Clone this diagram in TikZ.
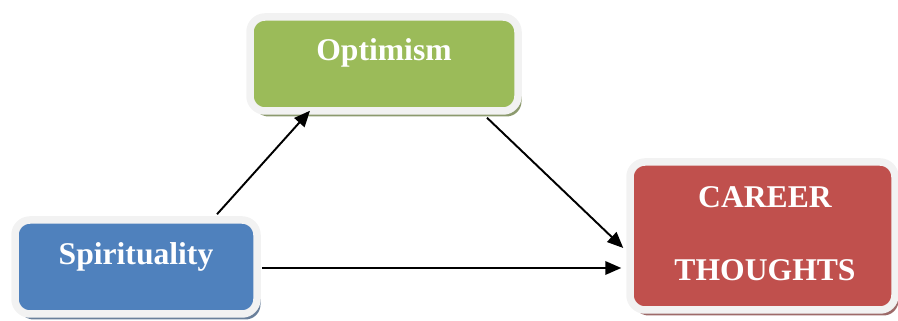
\documentclass[tikz,border=0pt]{standalone}
\usepackage{fontspec}
\setmainfont{Liberation Serif}
\usetikzlibrary{arrows.meta, positioning, shadows, calc}
\definecolor{verdeopt}{RGB}{155, 187, 89}
\definecolor{azulesp}{RGB}{79, 129, 189}
\definecolor{vermelho}{RGB}{192, 80, 77}
\definecolor{borda}{RGB}{242, 242, 242}

\begin{document}
\begin{tikzpicture}[
    caixa/.style={
        draw=borda,
        line width=0.15cm,
        rounded corners=0.3cm,
        minimum height=1.88cm
    },
    texto/.style={
        text=white,
        font=\fontsize{18}{21}\selectfont\bfseries,
        align=center
    },
    seta/.style={
        line width=1.1pt,
        -{Triangle[length=0.32cm,width=0.27cm]}
    }
]

\useasboundingbox (0,0) rectangle (17.96,6.42);

% ---------------- Optimism ----------------

\node[
    caixa,
    fill=verdeopt,
    minimum width=5.36cm,
    drop shadow={shadow xshift=0.07cm, shadow yshift=-0.11cm,
        fill=verdeopt!45!gray, opacity=1}
] (optimism) at (7.68,5.14)
{};

\node[texto] (optimismtxt) at (7.68,5.36)
{Optimism};

% ---------------- Spirituality ----------------

\node[
    caixa,
    fill=azulesp,
    minimum width=4.84cm,
    drop shadow={shadow xshift=0.07cm, shadow yshift=-0.11cm,
        fill=azulesp!45!gray, opacity=1}
] (spirit) at (2.72,1.08)
{};

\node[texto] (spirittxt) at (2.72,1.28)
{Spirituality};

% ---------------- Career thoughts ----------------

\node[
    caixa,
    fill=vermelho,
    minimum width=5.3cm,
    minimum height=2.96cm,
    drop shadow={shadow xshift=0.07cm, shadow yshift=-0.11cm,
        fill=vermelho!45!gray, opacity=1}
] (career) at (15.25,1.70)
{};

\node[texto] (careertxt) at (15.3,1.74)
{
    CAREER\\[0.72cm]
    THOUGHTS
};

% ---------------- Setas ----------------

\draw[seta] ($(spirit.north)+(1.62,0.04)$) -- ($(optimism.south)+(-1.48,0.08)$);
\draw[seta] ($(optimism.south)+(2.06,-0.06)$) -- ($(career.west)+(-0.06,-0.24)$);
\draw[seta] ($(spirit.east)+(0.02,-0.02)$) -- ($(career.west)+(-0.1,-0.64)$);

\end{tikzpicture}
\end{document}
